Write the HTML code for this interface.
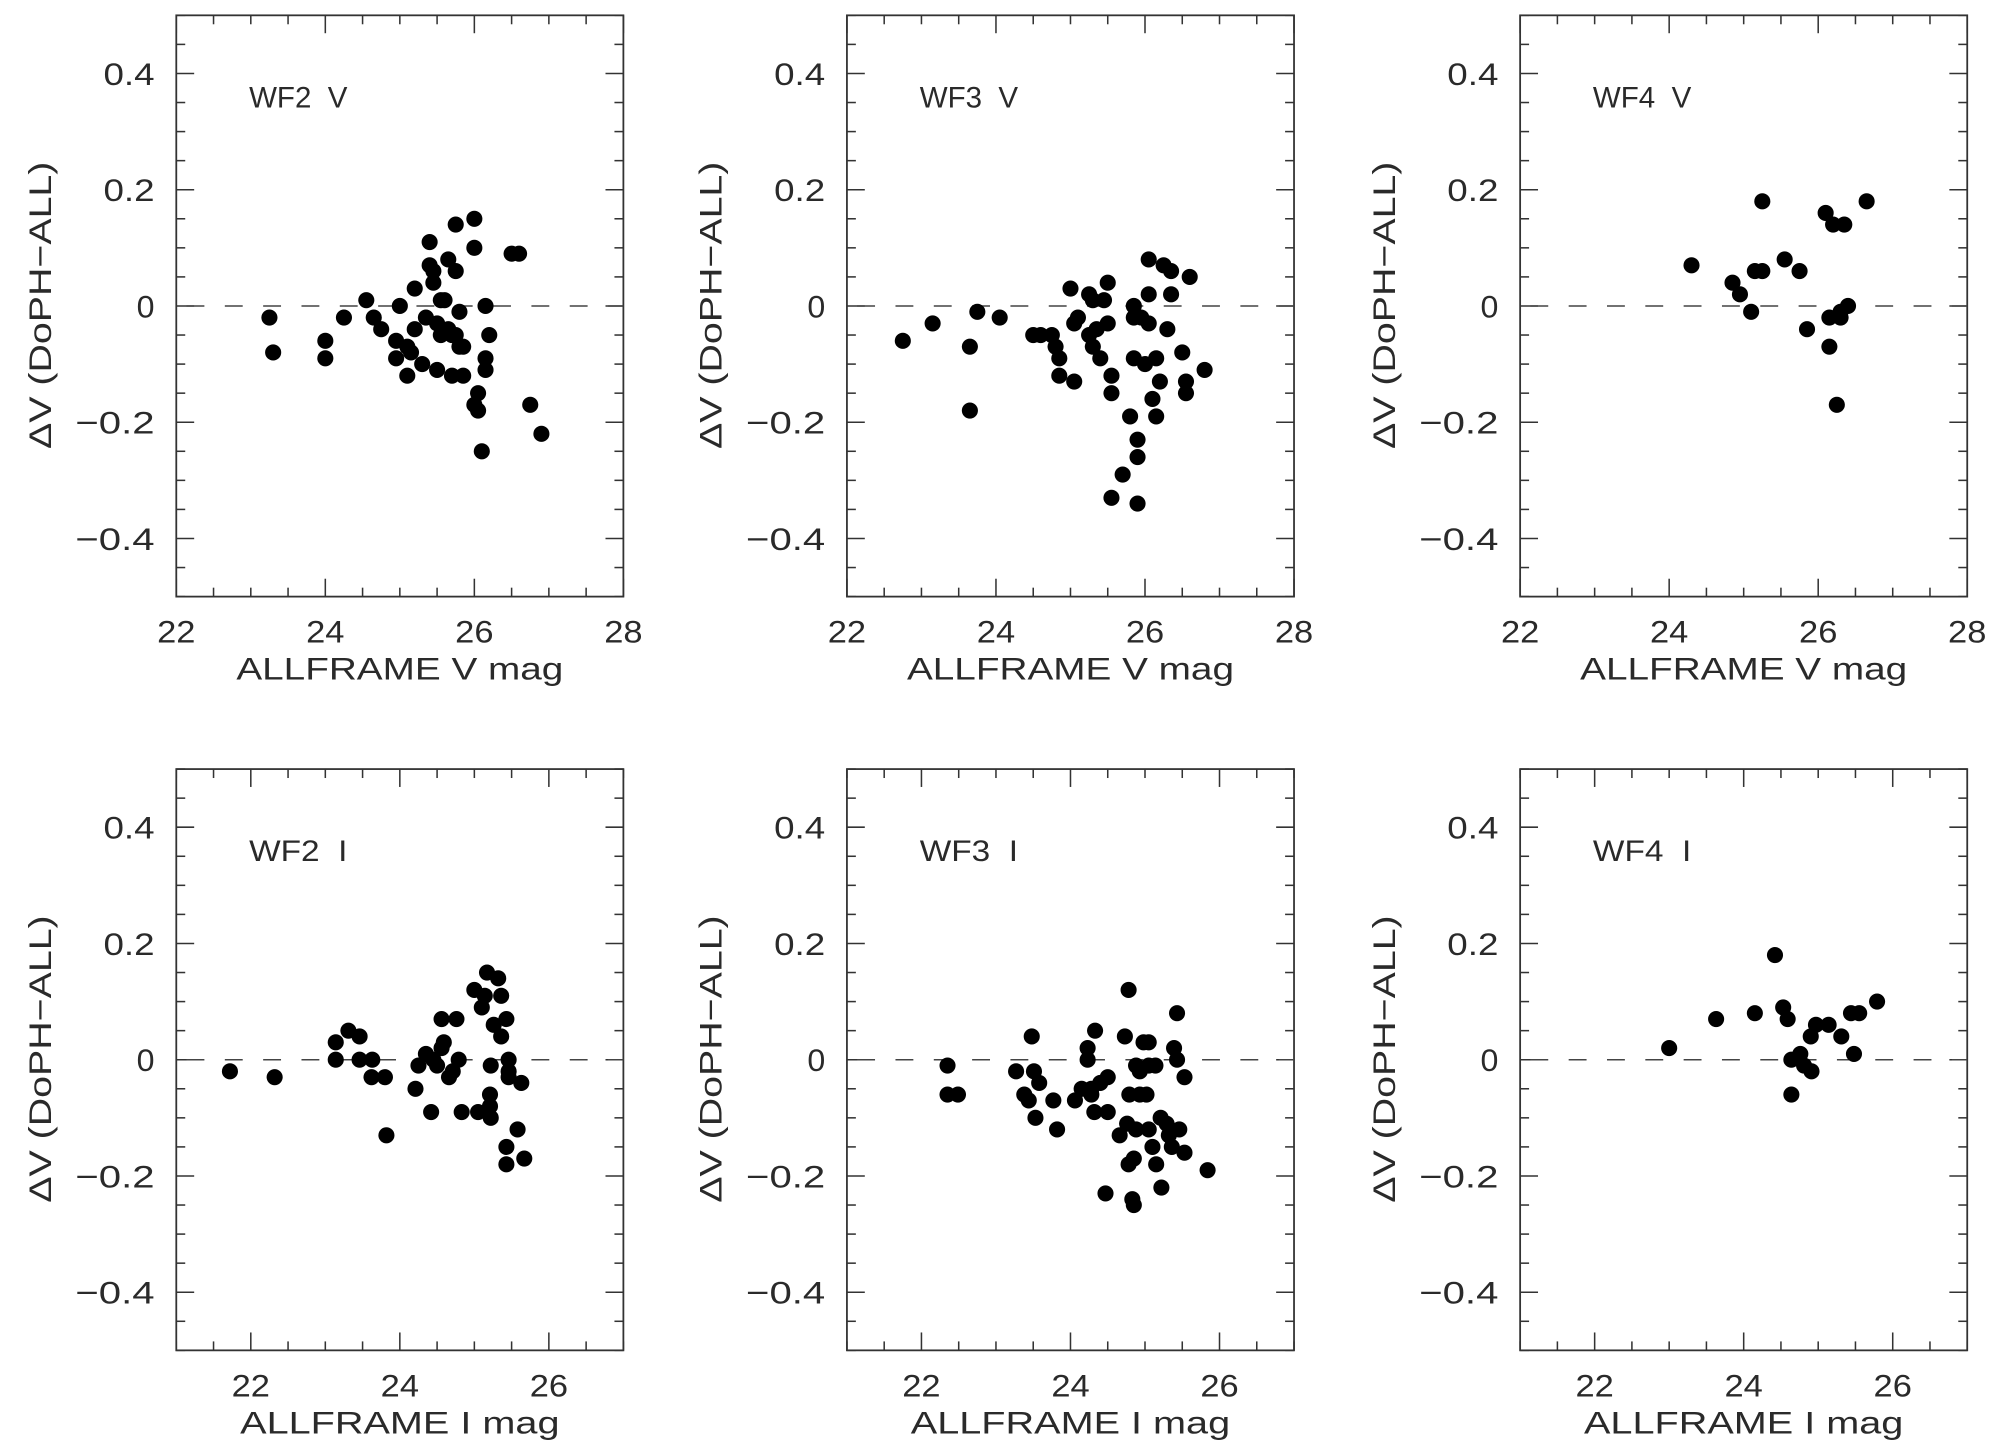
<!DOCTYPE html>
<html><head><meta charset="utf-8"><style>
html,body{margin:0;padding:0;background:#fff;}
svg{display:block;}
text{font-family:"Liberation Sans",sans-serif;fill:#2a2a2a;}
</style></head><body>
<svg id="fig" width="2003" height="1450" viewBox="0 0 1568 1135" preserveAspectRatio="none" xmlns="http://www.w3.org/2000/svg"></svg>
<script>
const wf2vX=[23.25,23.3,24.0,24.0,24.25,24.55,24.65,24.75,24.95,24.95,25.0,25.1,25.1,25.15,25.2,25.2,25.3,25.35,25.4,25.4,25.45,25.45,25.5,25.5,25.55,25.55,25.6,25.65,25.65,25.7,25.75,25.75,25.75,25.8,25.8,25.85,26.0,26.0,26.0,26.05,26.05,26.1,26.15,26.15,26.15,26.2,26.5,26.6,26.75,26.9,25.7,25.85];
const wf2vY=[-0.02,-0.08,-0.06,-0.09,-0.02,0.01,-0.02,-0.04,-0.06,-0.09,0.0,-0.12,-0.07,-0.08,0.03,-0.04,-0.10,-0.02,0.11,0.07,0.06,0.04,-0.03,-0.11,0.01,-0.05,0.01,0.08,-0.04,-0.12,0.14,0.06,-0.05,-0.07,-0.01,-0.12,0.15,0.10,-0.17,-0.18,-0.15,-0.25,0.0,-0.09,-0.11,-0.05,0.09,0.09,-0.17,-0.22,-0.05,-0.07];
const wf3vX=[22.75,23.15,23.65,23.65,23.75,24.05,24.5,24.6,24.75,24.8,24.85,24.85,25.0,25.05,25.05,25.1,25.25,25.3,25.3,25.35,25.4,25.45,25.5,25.55,25.55,25.5,25.55,25.7,25.8,25.85,25.85,25.85,25.9,25.9,25.9,25.95,26.0,26.05,26.05,26.05,26.1,26.15,26.15,26.2,26.25,26.3,26.35,26.35,26.5,26.55,26.55,26.6,26.8,25.25];
const wf3vY=[-0.06,-0.03,-0.18,-0.07,-0.01,-0.02,-0.05,-0.05,-0.05,-0.07,-0.09,-0.12,0.03,-0.13,-0.03,-0.02,0.02,0.01,-0.07,-0.04,-0.09,0.01,0.04,-0.12,-0.15,-0.03,-0.33,-0.29,-0.19,0.0,-0.02,-0.09,-0.23,-0.26,-0.34,-0.02,-0.10,0.08,0.02,-0.03,-0.16,-0.19,-0.09,-0.13,0.07,-0.04,0.06,0.02,-0.08,-0.13,-0.15,0.05,-0.11,-0.05];
const wf4vX=[24.3,24.85,24.95,25.1,25.15,25.25,25.25,25.55,25.75,25.85,26.1,26.15,26.15,26.2,26.25,26.3,26.35,26.4,26.65,26.3];
const wf4vY=[0.07,0.04,0.02,-0.01,0.06,0.06,0.18,0.08,0.06,-0.04,0.16,-0.07,-0.02,0.14,-0.17,-0.02,0.14,0.0,0.18,-0.01];
const wf2iX=[21.72,22.32,23.14,23.14,23.31,23.46,23.46,23.62,23.63,23.8,23.82,24.21,24.25,24.35,24.42,24.45,24.5,24.56,24.56,24.59,24.66,24.71,24.76,24.79,24.83,25.0,25.05,25.1,25.14,25.17,25.21,25.21,25.22,25.22,25.26,25.32,25.36,25.36,25.43,25.43,25.43,25.46,25.46,25.46,25.58,25.63,25.67];
const wf2iY=[-0.02,-0.03,0.03,0.0,0.05,0.04,0.0,-0.03,0.0,-0.03,-0.13,-0.05,-0.01,0.01,-0.09,0.0,-0.01,0.07,0.02,0.03,-0.03,-0.02,0.07,0.0,-0.09,0.12,-0.09,0.09,0.11,0.15,-0.06,-0.08,-0.1,-0.01,0.06,0.14,0.11,0.04,-0.15,-0.18,0.07,-0.02,-0.03,0.0,-0.12,-0.04,-0.17];
const wf3iX=[22.35,22.35,22.49,23.27,23.38,23.44,23.48,23.51,23.53,23.58,23.77,23.82,24.06,24.15,24.23,24.23,24.28,24.32,24.33,24.4,24.47,24.5,24.5,24.66,24.73,24.76,24.78,24.78,24.79,24.83,24.85,24.85,24.88,24.88,24.93,24.93,24.98,25.02,25.05,25.05,25.05,25.1,25.14,25.15,25.21,25.22,25.29,25.32,25.36,25.39,25.43,25.43,25.46,25.53,25.53,25.84,24.28];
const wf3iY=[-0.01,-0.06,-0.06,-0.02,-0.06,-0.07,0.04,-0.02,-0.1,-0.04,-0.07,-0.12,-0.07,-0.05,0.02,0.0,-0.05,-0.09,0.05,-0.04,-0.23,-0.03,-0.09,-0.13,0.04,-0.11,0.12,-0.18,-0.06,-0.24,-0.25,-0.17,-0.01,-0.12,-0.06,-0.02,0.03,-0.06,0.03,-0.01,-0.12,-0.15,-0.01,-0.18,-0.1,-0.22,-0.11,-0.13,-0.15,0.02,0.08,0.0,-0.12,-0.16,-0.03,-0.19,-0.06];
const wf4iX=[23.0,23.63,24.15,24.42,24.53,24.59,24.64,24.64,24.76,24.81,24.9,24.91,24.97,25.14,25.31,25.44,25.48,25.55,25.79];
const wf4iY=[0.02,0.07,0.08,0.18,0.09,0.07,0.0,-0.06,0.01,-0.01,0.04,-0.02,0.06,0.06,0.04,0.08,0.01,0.08,0.10];
const yTicks=[0.4,0.2,0,-0.2,-0.4];
const vTicks=[22,24,26,28];
const iTicks=[22,24,26];

const NS="http://www.w3.org/2000/svg";
const svg=document.getElementById('fig');
function mk(tag,attrs,parent){const e=document.createElementNS(NS,tag);for(const k in attrs)e.setAttribute(k,attrs[k]);(parent||svg).appendChild(e);return e;}
const panels=[
 {name:'wf2-v',label:'WF2 V',x0:138,y0:12,xs:wf2vX,ys:wf2vY,xmin:22,xmax:28,ticks:vTicks,title:'ALLFRAME V mag'},
 {name:'wf3-v',label:'WF3 V',x0:663,y0:12,xs:wf3vX,ys:wf3vY,xmin:22,xmax:28,ticks:vTicks,title:'ALLFRAME V mag'},
 {name:'wf4-v',label:'WF4 V',x0:1190,y0:12,xs:wf4vX,ys:wf4vY,xmin:22,xmax:28,ticks:vTicks,title:'ALLFRAME V mag'},
 {name:'wf2-i',label:'WF2 I',x0:138,y0:602,xs:wf2iX,ys:wf2iY,xmin:21,xmax:27,ticks:iTicks,title:'ALLFRAME I mag'},
 {name:'wf3-i',label:'WF3 I',x0:663,y0:602,xs:wf3iX,ys:wf3iY,xmin:21,xmax:27,ticks:iTicks,title:'ALLFRAME I mag'},
 {name:'wf4-i',label:'WF4 I',x0:1190,y0:602,xs:wf4iX,ys:wf4iY,xmin:21,xmax:27,ticks:iTicks,title:'ALLFRAME I mag'}
];
const W=350,H=455;
panels.forEach(p=>{
 const g=mk('g',{});
 
 
 const sx=v=>p.x0+(v-p.xmin)/(p.xmax-p.xmin)*W;
 const sy=v=>p.y0+(0.5-v)/1.0*H;
 const L='#333';
 for(let k=-10;k<=10;k++){const v=k*0.05;const y=sy(v);
  const isMaj=Math.abs(Math.round(v*100))%20===0;const len=isMaj?14:7;
  mk('line',{x1:p.x0,x2:p.x0+len,y1:y,y2:y,stroke:L,'stroke-width':1.2},g);
  mk('line',{x1:p.x0+W,x2:p.x0+W-len,y1:y,y2:y,stroke:L,'stroke-width':1.2},g);}
 for(let v=p.xmin;v<=p.xmax+1e-9;v+=0.5){const x=sx(v);const isMaj=Math.abs(v%2)<1e-9;const len=isMaj?14:7;
  mk('line',{x1:x,x2:x,y1:p.y0+H,y2:p.y0+H-len,stroke:L,'stroke-width':1.2},g);
  mk('line',{x1:x,x2:x,y1:p.y0,y2:p.y0+len,stroke:L,'stroke-width':1.2},g);}
 const frame=mk('rect',{x:p.x0,y:p.y0,width:W,height:H,fill:'none',stroke:L,'stroke-width':1.4},g);
 
 
 const zl=mk('line',{x1:p.x0,x2:p.x0+W,y1:sy(0),y2:sy(0),stroke:'#444','stroke-width':1.2,'stroke-dasharray':'14 16','stroke-dashoffset':'-8'},g);
 
 
 yTicks.forEach(v=>{const s=v===0?'0':(v<0?'\u2212'+Math.abs(v).toFixed(1):v.toFixed(1));
  const len=s.length===1?14:(s.length===3?40:62);
  const t=mk('text',{x:p.x0-17-len,y:sy(v)+9,'font-size':25,textLength:len,lengthAdjust:'spacingAndGlyphs'},g);t.textContent=s;
  
  });
 p.ticks.forEach(v=>{const t=mk('text',{x:sx(v)-15,y:p.y0+H+36,'font-size':25,textLength:30,lengthAdjust:'spacingAndGlyphs'},g);t.textContent=String(v);
  
  });
 const tl=p.title.indexOf(' V ')>0?256:250;
 const xt=mk('text',{x:p.x0+W/2-tl/2,y:p.y0+H+65,'font-size':25,textLength:tl,lengthAdjust:'spacingAndGlyphs'},g);xt.textContent=p.title;
 
 
 const yt=mk('text',{x:-112,y:0,'font-size':25,textLength:225,lengthAdjust:'spacingAndGlyphs',transform:`translate(${p.x0-98},${p.y0+H/2}) rotate(-90)`},g);yt.textContent='\u0394V (DoPH\u2212ALL)';
 
 
 const lb=mk('text',{x:p.x0+57,y:p.y0+72,'font-size':23,textLength:77,lengthAdjust:'spacingAndGlyphs'},g);lb.textContent=p.label.replace(' ','\u00a0\u00a0');
 
 
 p.xs.forEach((xv,i)=>{const c=mk('circle',{cx:sx(xv),cy:sy(p.ys[i]),r:6.3,fill:'#000'},g);
  
  });
});
</script>
</body></html>
